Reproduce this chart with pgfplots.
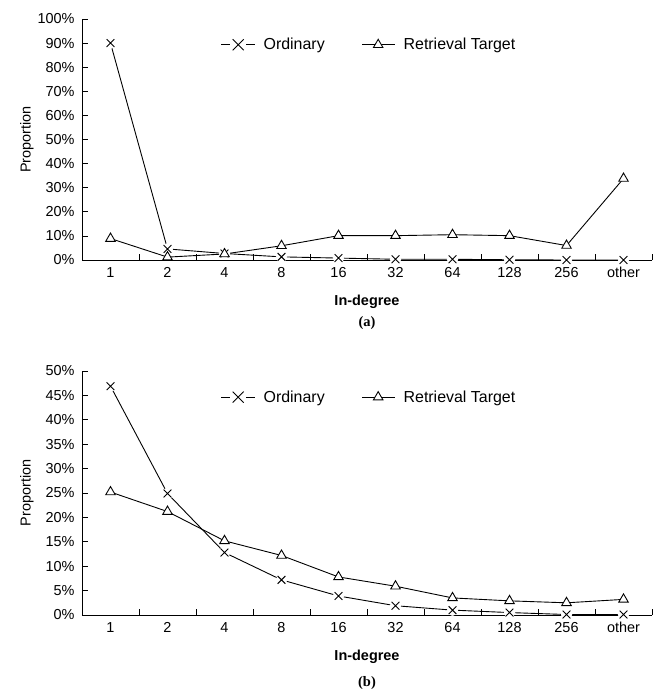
\documentclass[border=0pt]{standalone}
\usepackage{pgfplots}
\pgfplotsset{compat=1.18}
\usepackage{fontspec}
\setmainfont{Liberation Sans}
\newfontfamily\serifb{Liberation Serif}
\pgfplotstableread{
x ord ret
0 90.0 8.9
1 4.6 1.2
2 2.7 2.5
3 1.3 5.9
4 0.8 10.1
5 0.3 10.1
6 0.3 10.5
7 0.1 10.1
8 0.0 6.0
9 0.0 33.8
}\tablea
\pgfplotstableread{
x ord ret
0 46.9 25.2
1 24.9 21.2
2 12.8 15.2
3 7.2 12.2
4 3.9 7.8
5 1.9 5.9
6 1.0 3.5
7 0.5 2.9
8 0.1 2.5
9 0.1 3.2
}\tableb
\newcommand\fs{\fontsize{14.5}{16}\selectfont}
\newcommand\fl{\fontsize{16}{18}\selectfont}
\pgfplotsset{
  myax/.style={
    scale only axis, width=570bp,
    axis lines*=left,
    axis line style={line width=1pt, -},
    xmin=-0.5, xmax=9.5,
    xtick={0,...,9},
    xticklabels={1,2,4,8,16,32,64,128,256,other},
    minor xtick={-0.5,0.5,...,9.5},
    major x tick style={draw=none},
    minor tick length=6bp,
    major tick length=6bp,
    tick style={black, line width=0.8pt},
    tick align=inside,
    ticklabel style={font=\fs},
    xticklabel style={yshift=-3bp, text height=10.5bp, text depth=0bp, anchor=north},
    yticklabel style={xshift=-4bp},
    yticklabel={\pgfmathprintnumber{\tick}\%},
    /pgf/number format/assume math mode=true,
    xlabel={\bfseries In-degree},
    xlabel style={font=\fs, at={(axis description cs:0.5,0)}, anchor=center, yshift=-42bp},
    ylabel={Proportion},
    ylabel style={font=\fs, at={(axis description cs:-0.0965,0.5)}, anchor=center},
    legend columns=2,
    legend style={draw=none, fill=none, font=\fl, anchor=center,
      at={(axis description cs:0.5035,0.893)},
      /tikz/every odd column/.append style={column sep=6bp},
      /tikz/every even column/.append style={column sep=35bp}},
    clip=false,
  },
  ordl/.style={black, line width=0.9pt, mark=x, mark size=5.5bp, mark options={line width=0.9pt},
    legend image code/.code={
      \draw[black, line width=0.9pt] (0bp,0bp)--(9bp,0bp) (25bp,0bp)--(34bp,0bp);
      \draw[black, line width=0.9pt] (17bp,0bp) ++(-5.5bp,-5.5bp)--++(11bp,11bp) ++(-11bp,0bp)--++(11bp,-11bp);}},
  halo/.style={only marks, mark=*, mark size=5.5bp, white, mark options={draw=none, fill=white}, forget plot},
  retl/.style={black, line width=0.9pt, mark=triangle*, mark size=5.5bp, mark options={fill=white, line width=0.9pt},
    legend image code/.code={
      \draw[black, line width=0.9pt] (0bp,0bp)--(33bp,0bp);
      \draw[black, line width=0.9pt, fill=white] plot[mark=triangle*, mark size=5.5bp] coordinates {(16bp,0bp)};}},
}
\begin{document}
\begin{tikzpicture}
\useasboundingbox (0,0) rectangle (655bp,-693bp);
\begin{axis}[myax, at={(82bp,-260bp)}, anchor=south west, height=241bp,
  ymin=0, ymax=100, ytick={0,10,...,100}]
\addplot[black, line width=0.9pt, forget plot] table[x=x,y=ord]{\tablea};
\addplot[halo] table[x=x,y=ord]{\tablea};
\addplot[ordl, only marks] table[x=x,y=ord]{\tablea};
\addlegendentry{Ordinary}
\addplot[retl] table[x=x,y=ret]{\tablea};
\addlegendentry{Retrieval Target}
\end{axis}
\node[font=\serifb\bfseries\fs] at (367bp,-323bp) {(a)};
\begin{axis}[myax, at={(82bp,-615bp)}, anchor=south west, height=244bp,
  ymin=0, ymax=50, ytick={0,5,...,50}]
\addplot[black, line width=0.9pt, forget plot] table[x=x,y=ord]{\tableb};
\addplot[halo] table[x=x,y=ord]{\tableb};
\addplot[ordl, only marks] table[x=x,y=ord]{\tableb};
\addlegendentry{Ordinary}
\addplot[retl] table[x=x,y=ret]{\tableb};
\addlegendentry{Retrieval Target}
\end{axis}
\node[font=\serifb\bfseries\fs] at (367bp,-683bp) {(b)};
\end{tikzpicture}
\end{document}
